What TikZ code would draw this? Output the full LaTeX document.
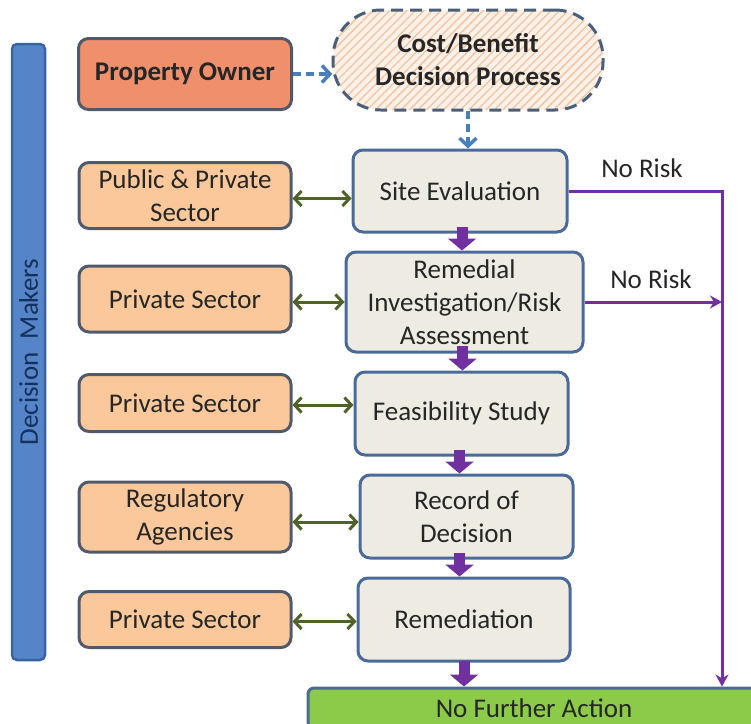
\documentclass[tikz,border=0pt]{standalone}
\usepackage{fontspec}
\setmainfont{Carlito}
\usetikzlibrary{arrows.meta,patterns.meta,calc}
\definecolor{txt}{HTML}{262626}
\definecolor{leftc}{HTML}{FAC89A}
\definecolor{leftedge}{HTML}{505A6A}
\definecolor{poc}{HTML}{F08F6C}
\definecolor{midc}{HTML}{EEEBE2}
\definecolor{midedge}{HTML}{4A6A9A}
\definecolor{nfac}{HTML}{8CCB4A}
\definecolor{nfaedge}{HTML}{4F6B8A}
\definecolor{greenarr}{HTML}{4F6228}
\definecolor{purp}{HTML}{7030A0}
\definecolor{blu}{HTML}{4A7EBB}
\definecolor{barfill}{HTML}{5585C8}
\definecolor{baredge}{HTML}{3A64A0}
\definecolor{bartxt}{HTML}{15305A}
\definecolor{cbfill}{HTML}{FCF1E8}
\definecolor{hatchc}{HTML}{F2C4A0}
\definecolor{cbedge}{HTML}{4A5F7A}
\begin{document}
\begin{tikzpicture}[x=1pt,y=-1pt,
  box/.style={line width=3pt, rounded corners=10pt, inner sep=0pt, align=center,
    font=\fontsize{27}{33}\selectfont, text=txt},
  leftbox/.style={box, draw=leftedge, fill=leftc, minimum width=212pt},
  midbox/.style={box, draw=midedge, fill=midc},
  garrow/.style={draw=greenarr, line width=3pt, {Straight Barb[length=7pt,width=15pt]}-{Straight Barb[length=7pt,width=15pt]}},
  parrow/.style={draw=purp, line width=11pt, -{Triangle[length=12pt,width=28pt]}},
  pline/.style={draw=purp, line width=3pt},
  barrow/.style={draw=blu, line width=3.5pt, dash pattern=on 8pt off 5pt, -{Straight Barb[length=8pt,width=17pt]}},
  lbl/.style={font=\fontsize{27}{33}\selectfont, text=txt, inner sep=0pt}
]
\clip (0,0) rectangle (751,723);
\useasboundingbox (0,0) rectangle (751,723);

% Decision makers bar
\node[draw=baredge, fill=barfill, line width=2.5pt, rounded corners=5pt, rotate=90,
  minimum width=616pt, minimum height=33pt, inner sep=0pt,
  font=\fontsize{27}{33}\selectfont, text=bartxt] (dm) at (28.5,352) {Decision\hspace{0.5em}Makers};

% top row
\node[box, draw=leftedge, fill=poc, minimum width=213pt, minimum height=71pt,
  font=\fontsize{27}{33}\selectfont\bfseries] (po) at (185,74) {Property Owner};
\node[box, draw=cbedge, dash pattern=on 12pt off 7pt, rounded corners=48pt,
  preaction={fill=cbfill}, pattern={Lines[angle=45,distance=6pt,line width=1.3pt]}, pattern color=hatchc,
  minimum width=270pt, minimum height=100pt,
  font=\fontsize{27}{33}\selectfont\bfseries] (cb) at (468,60) {Cost/Benefit\\Decision Process};

% middle column
\node[midbox, minimum width=214pt, minimum height=82pt] (se) at (460,191) {Site Evaluation};
\node[midbox, minimum width=237pt, minimum height=100pt] (ri) at (464.5,302) {Remedial\\Investigation/Risk\\Assessment};
\node[midbox, minimum width=213pt, minimum height=83pt] (fs) at (461.5,413.5) {Feasibility Study};
\node[midbox, minimum width=213pt, minimum height=83pt] (rd) at (466.5,516.5) {Record of\\Decision};
\node[midbox, minimum width=212pt, minimum height=83pt] (rm) at (464,619.5) {Remediation};
\node[box, draw=nfaedge, fill=nfac, rounded corners=6pt, minimum width=452pt, minimum height=40pt] (nfa) at (534,708) {No Further Action};

% left column
\node[leftbox, minimum height=66pt] (pp) at (185,195.5) {Public \& Private\\Sector};
\node[leftbox, minimum height=66pt] (ps1) at (185,299) {Private Sector};
\node[leftbox, minimum height=57pt] (ps2) at (185,403) {Private Sector};
\node[leftbox, minimum height=70pt] (ra) at (185,517) {Regulatory\\Agencies};
\node[leftbox, minimum height=56pt] (ps3) at (185,619.5) {Private Sector};

% blue dashed arrows
\draw[barrow] (po.east) -- (po.east -| cb.west);
\draw[barrow] (cb.south) -- (cb.south |- se.north);

% green double arrows
\draw[garrow] ($(pp.east)+(0,3)$) -- ($(pp.east -| se.west)+(0,3)$);
\draw[garrow] ($(ps1.east)+(0,3)$) -- ($(ps1.east -| ri.west)+(0,3)$);
\draw[garrow] ($(ps2.east)+(0,2)$) -- ($(ps2.east -| fs.west)+(0,2)$);
\draw[garrow] ($(ra.east)+(0,5)$) -- ($(ra.east -| rd.west)+(0,5)$);
\draw[garrow] ($(ps3.east)+(0,2)$) -- ($(ps3.east -| rm.west)+(0,2)$);

% purple block arrows
\draw[parrow] ($(se.south)+(2,-7)$) -- ($(se.south |- ri.north)+(2,0)$);
\draw[parrow] ($(ri.south)+(-2,-8)$) -- ($(ri.south |- fs.north)+(-2,0)$);
\draw[parrow] ($(fs.south)+(-2,-7)$) -- ($(fs.south |- rd.north)+(-2,0)$);
\draw[parrow] ($(rd.south)+(-7,-7)$) -- ($(rd.south |- rm.north)+(-7,0)$);
\draw[parrow] ($(rm.south)+(0,-2)$) -- ($(rm.south |- nfa.north)+(0,0)$);

% purple no-risk lines
\coordinate (cr) at (722,190);
\draw[pline, -{Stealth[length=12pt,width=13pt]}] (se.east) -- (se.east -| cr) -- (cr |- nfa.north);
\draw[pline, -{Stealth[length=12pt,width=13pt]}] (ri.east) -- (ri.east -| cr);

\node[lbl] (nr1) at (642,168) {No Risk};
\node[lbl] (nr2) at (651,279) {No Risk};
\end{tikzpicture}
\end{document}
